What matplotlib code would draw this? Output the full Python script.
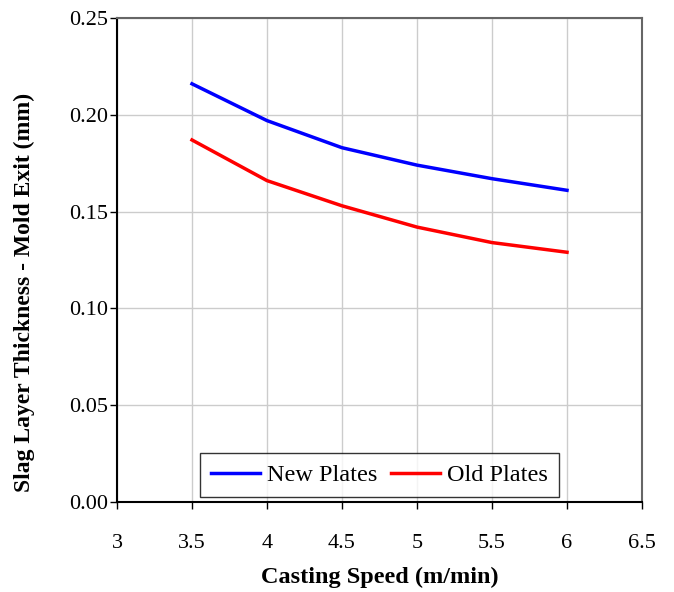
import matplotlib
matplotlib.use("Agg")
import matplotlib.pyplot as plt

speed = [3.5, 4.0, 4.5, 5.0, 5.5, 6.0]
new_plates = [0.216, 0.197, 0.183, 0.174, 0.167, 0.161]
old_plates = [0.187, 0.166, 0.153, 0.142, 0.134, 0.129]
xticks = [3, 3.5, 4, 4.5, 5, 5.5, 6, 6.5]
xticklabels = ["3", "3.5", "4", "4.5", "5", "5.5", "6", "6.5"]
yticks = [0.00, 0.05, 0.10, 0.15, 0.20, 0.25]
yticklabels = ["0.00", "0.05", "0.10", "0.15", "0.20", "0.25"]

plt.rcParams['font.family'] = ['Liberation Serif', 'DejaVu Serif']

fig = plt.figure(figsize=(6.74, 5.92), dpi=100)
ax = fig.add_axes([117/674, 1 - 502/592, (642-117)/674, (502-18)/592])

ax.plot(speed, new_plates, color='#0000ff', lw=2.5, label='New Plates')
ax.plot(speed, old_plates, color='#ff0000', lw=2.5, label='Old Plates')

ax.set_xlim(3, 6.5)
ax.set_ylim(0, 0.25)
ax.set_xticks(xticks)
ax.set_xticklabels(xticklabels)
ax.set_yticks(yticks)
ax.set_yticklabels(yticklabels)
ax.grid(True, color='#cccccc', lw=1)
ax.set_axisbelow(True)
ax.tick_params(axis='both', direction='out', length=5, width=1, labelsize=16, color='black')
ax.tick_params(axis='x', pad=18)
ax.tick_params(axis='y', pad=1.5)
for s in ['top', 'right']:
    ax.spines[s].set_color('#666666')
    ax.spines[s].set_linewidth(1.5)
for s in ['left', 'bottom']:
    ax.spines[s].set_color('black')
    ax.spines[s].set_linewidth(1.5)

ax.set_xlabel('Casting Speed (m/min)', fontsize=17.5, fontweight='bold', labelpad=10)
ax.set_ylabel('Slag Layer Thickness - Mold Exit (mm)', fontsize=17, fontweight='bold')
ax.yaxis.set_label_coords(-0.157, 0.434)

leg = ax.legend(loc='lower center', ncol=2, fontsize=17.5, frameon=True, fancybox=False,
                edgecolor='black', handlelength=2.0, columnspacing=0.55, handletextpad=0.3,
                borderaxespad=0.2, borderpad=0.45, bbox_to_anchor=(0.5, 0.0))
leg.get_frame().set_linewidth(1.0)

fig.savefig('out.png', dpi=100)
